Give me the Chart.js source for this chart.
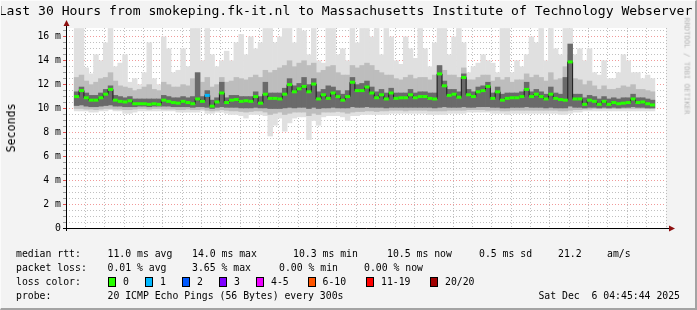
<!DOCTYPE html>
<html><head><meta charset="utf-8">
<script src="https://cdn.jsdelivr.net/npm/chart.js@4.4.0/dist/chart.umd.min.js"></script>
<style>
html,body{margin:0;padding:0;background:#f3f3f3;}
#wrap{position:relative;width:697px;height:310px;overflow:hidden;background:#f3f3f3;font-family:"DejaVu Sans Mono",monospace;color:#000;}
#frame{position:absolute;left:0;top:0;width:697px;height:310px;box-sizing:border-box;border-right:2px solid #a3a3a3;border-bottom:2px solid #a3a3a3;border-top:1px solid #fbfbfb;border-left:1px solid #fbfbfb;pointer-events:none;}
canvas{position:absolute;left:0;top:0;}
.t{position:absolute;white-space:pre;font-size:9.8px;line-height:12px;}
.box{position:absolute;width:8px;height:10px;box-sizing:border-box;border:1px solid #000;}
#title{position:absolute;left:-100px;width:891px;top:3px;text-align:center;font-size:13.1px;line-height:16px;white-space:pre;}
#ylab{position:absolute;left:11px;top:128px;transform:translate(-50%,-50%) rotate(-90deg);font-size:11.6px;white-space:pre;}
#rrd{position:absolute;left:687px;top:66px;transform:translate(-50%,-50%) rotate(90deg);font-size:7.3px;color:#b4b4b4;white-space:pre;}
</style></head>
<body><div id="wrap">
<canvas id="c" width="697" height="310"></canvas>
<div id="title">Last 30 Hours from smokeping.fk-it.nl to Massachusetts Institute of Technology Webserver</div>
<div id="ylab">Seconds</div>
<div id="rrd">RRDTOOL / TOBI OETIKER</div>
<div class="t" style="left:16px;top:248px">median rtt:</div>
<div class="t" style="left:107.5px;top:248px">11.0 ms avg</div>
<div class="t" style="left:192px;top:248px">14.0 ms max</div>
<div class="t" style="left:293px;top:248px">10.3 ms min</div>
<div class="t" style="left:387px;top:248px">10.5 ms now</div>
<div class="t" style="left:479px;top:248px">0.5 ms sd</div>
<div class="t" style="left:558px;top:248px">21.2</div>
<div class="t" style="left:607px;top:248px">am/s</div>
<div class="t" style="left:16px;top:262px">packet loss:</div>
<div class="t" style="left:107.5px;top:262px">0.01 % avg</div>
<div class="t" style="left:192px;top:262px">3.65 % max</div>
<div class="t" style="left:279px;top:262px">0.00 % min</div>
<div class="t" style="left:364px;top:262px">0.00 % now</div>
<div class="t" style="left:16px;top:276px">loss color:</div>
<div id="legend"></div>
<div class="t" style="left:16px;top:290px">probe:</div>
<div class="t" style="left:107.5px;top:290px">20 ICMP Echo Pings (56 Bytes) every 300s</div>
<div class="t" style="right:17px;top:290px">Sat Dec  6 04:45:44 2025</div>
<div id="frame"></div>
</div>
<script>
// ---- data (ms), one sample every 15 minutes, hours relative to Fri 00:00 ----
const startHour = -1.15;
const stepHours = 0.25;

const median = [
 11.0,11.5,10.9,10.7,10.7,10.9,11.2,11.6,10.7,10.6,
 10.55,10.65,10.4,10.4,10.4,10.35,10.4,10.35,10.7,10.6,
 10.5,10.45,10.6,10.5,10.4,10.8,10.6,11.1,10.2,10.55,
 11.3,10.5,10.7,10.75,10.6,10.65,10.6,11.0,10.45,11.2,
 10.85,10.85,10.8,11.2,12.0,11.4,11.65,11.85,11.4,12.05,
 10.8,11.15,10.85,11.3,11.0,10.7,11.0,12.2,11.5,11.5,
 11.8,11.3,10.9,11.15,10.8,11.3,10.85,10.9,10.9,11.15,
 10.9,11.0,11.0,10.85,10.8,12.9,11.9,11.1,11.2,10.95,
 12.6,11.15,11.0,11.4,11.5,11.85,10.85,11.4,10.7,10.85,
 10.9,10.9,11.0,11.6,11.0,11.2,11.0,10.8,11.2,10.85,
 10.75,10.7,13.9,10.8,10.8,10.35,10.7,10.6,10.35,10.6,
 10.35,10.5,10.4,10.45,10.5,10.8,10.5,10.55,10.4,10.3];

const lossCount = [
 0,0,0,0,0,0,0,0,0,0, 0,0,0,0,0,0,0,0,0,0,
 0,0,0,0,0,0,0,1,0,0, 0,0,0,0,0,0,0,0,0,0,
 0,0,0,0,0,0,0,0,0,0, 0,0,0,0,0,0,0,0,0,0,
 0,0,0,0,0,0,0,0,0,0, 0,0,0,0,0,0,0,0,0,0,
 0,0,0,0,0,0,0,0,0,0, 0,0,0,0,0,0,0,0,0,0,
 0,0,0,0,0,0,0,0,0,0, 0,0,0,0,0,0,0,0,0,0];

const darkLo = [
 10.25,10.3,10.2,10.15,10.15,10.2,10.25,10.3,10.2,10.2,
 10.15,10.15,10.15,10.2,10.2,10.15,10.2,10.2,10.2,10.2,
 10.15,10.15,10.15,10.15,10.1,10.15,10.15,10.1,10.0,10.1,
 10.15,10.1,10.1,10.1,10.05,10.05,10.05,10.1,10.05,10.05,
 10.0,10.0,10.0,10.05,10.1,10.05,10.1,10.1,10.0,10.1,
 10.0,10.05,10.05,10.1,10.05,10.05,10.05,10.15,10.1,10.1,
 10.15,10.1,10.1,10.1,10.05,10.1,10.1,10.1,10.1,10.1,
 10.1,10.1,10.1,10.1,10.05,10.1,10.15,10.1,10.1,10.1,
 10.15,10.1,10.1,10.15,10.15,10.15,10.1,10.1,10.05,10.05,
 10.1,10.1,10.1,10.15,10.1,10.1,10.1,10.05,10.1,10.05,
 10.05,10.05,10.2,10.1,10.1,10.05,10.1,10.1,10.05,10.1,
 10.05,10.1,10.05,10.1,10.1,10.15,10.1,10.1,10.05,10.05];

const darkHi = [
 11.4,11.8,11.3,11.1,11.1,11.3,11.6,11.9,11.1,11.0,
 10.9,11.0,10.8,10.8,10.8,10.8,10.8,10.8,11.1,11.0,
 10.9,10.9,11.0,10.9,11.0,13.0,11.0,11.5,10.7,10.9,
 12.2,10.9,11.1,11.1,11.0,11.0,11.0,11.4,11.0,12.2,
 11.3,11.3,11.3,11.7,12.5,11.9,12.1,12.6,12.0,12.5,
 11.4,11.6,11.9,11.8,11.5,11.2,11.5,12.6,12.0,12.1,
 12.3,11.8,11.4,11.6,11.3,11.7,11.3,11.3,11.3,11.6,
 11.3,11.4,11.4,11.3,11.3,13.6,12.3,11.6,11.6,11.4,
 12.9,11.6,11.4,11.8,11.9,12.2,11.3,11.8,11.2,11.3,
 11.3,11.3,11.4,12.2,11.4,11.6,11.4,11.2,11.8,11.3,
 11.2,12.6,15.4,11.2,11.2,10.9,11.1,11.0,10.8,11.0,
 10.8,10.9,10.8,10.9,10.9,11.2,10.9,10.9,10.8,10.7];

const midLo = [
 10.0,10.0,9.95,9.95,9.9,9.95,10.0,10.0,9.95,9.95,
 9.9,9.9,9.95,10.0,10.0,9.95,10.0,10.0,9.95,9.95,
 9.95,9.9,9.9,9.95,9.9,9.9,9.95,9.85,9.8,9.85,
 9.9,9.85,9.8,9.8,9.75,9.7,9.75,9.8,9.8,9.7,
 9.5,9.6,9.7,9.5,9.6,9.7,9.7,9.7,9.4,9.6,
 9.5,9.7,9.7,9.7,9.75,9.7,9.6,9.7,9.75,9.75,
 9.8,9.8,9.75,9.8,9.8,9.85,9.85,9.85,9.8,9.85,
 9.85,9.85,9.85,9.8,9.8,9.8,9.8,9.85,9.85,9.85,
 9.85,9.9,9.9,9.9,9.9,9.85,9.85,9.85,9.8,9.8,
 9.85,9.85,9.85,9.85,9.85,9.85,9.85,9.85,9.85,9.85,
 9.8,9.8,9.85,9.9,9.9,9.95,9.95,10.0,10.0,10.0,
 10.0,10.0,10.0,10.0,10.0,10.0,10.0,10.0,10.0,10.0];

const midHi = [
 12.6,12.8,12.3,12.0,12.2,12.5,12.6,13.0,12.3,11.9,
 11.8,11.7,11.5,11.6,11.8,12.0,11.6,11.5,12.2,12.0,
 11.8,11.8,12.0,11.9,12.5,13.0,12.2,12.6,11.8,12.0,
 12.6,12.2,12.3,12.6,12.5,12.4,12.6,12.8,12.6,13.2,
 13.0,13.2,13.4,13.6,14.0,13.5,13.8,14.0,13.6,13.8,
 13.0,13.2,13.5,13.6,13.0,12.8,12.8,13.6,13.4,13.6,
 13.8,13.6,13.2,13.0,12.8,12.8,12.5,12.4,12.6,12.8,
 12.5,12.6,12.6,12.4,12.8,13.5,13.2,12.8,12.8,12.6,
 13.4,12.4,12.4,12.6,12.8,12.8,12.3,12.6,12.4,12.6,
 12.2,12.4,12.4,12.9,12.6,12.8,12.6,12.3,13.0,12.4,
 12.5,13.5,14.5,12.5,12.4,12.0,12.3,11.9,11.6,11.9,
 11.6,11.6,11.7,11.9,11.8,12.0,11.6,11.6,11.5,11.4];

const pingMin = [
 9.8,9.8,9.8,9.7,9.7,9.8,9.8,9.9,9.8,9.8,
 9.6,9.6,9.7,9.8,9.8,9.8,9.8,9.8,9.8,9.8,
 9.8,9.7,9.7,9.7,9.7,9.7,9.8,9.6,9.6,9.7,
 9.7,9.6,9.5,9.5,9.4,9.2,9.5,9.5,9.5,9.4,
 7.7,8.6,9.2,8.1,8.8,9.2,9.3,9.3,7.4,9.0,
 8.6,9.3,9.4,9.4,9.4,9.3,9.0,9.4,9.4,9.5,
 9.5,9.5,9.5,9.5,9.5,9.6,9.6,9.6,9.6,9.6,
 9.6,9.6,9.6,9.5,9.5,9.5,9.5,9.6,9.6,9.6,
 9.6,9.7,9.7,9.7,9.7,9.7,9.6,9.6,9.6,9.5,
 9.6,9.6,9.6,9.6,9.6,9.6,9.6,9.6,9.6,9.6,
 9.5,9.5,9.6,9.7,9.7,9.8,9.8,9.8,9.8,9.8,
 9.8,9.8,9.8,9.8,9.8,9.8,9.8,9.8,9.8,9.8];

const pingMax = [
 16.7,16.7,13.4,12.9,14.5,14.0,15.5,16.7,13.5,13.8,
 14.5,12.2,12.5,12.0,13.0,15.5,12.5,12.0,16.0,15.0,
 13.0,13.2,15.0,13.5,16.7,16.7,14.0,16.7,14.5,13.5,
 14.0,14.8,14.0,15.5,16.2,14.5,16.0,15.0,15.5,16.7,
 16.7,15.5,16.0,16.7,16.7,15.5,16.7,16.5,14.5,16.7,
 14.0,13.8,16.7,16.7,14.5,15.0,14.0,16.7,15.5,16.7,
 16.7,16.0,16.7,14.5,16.7,16.0,14.0,13.7,16.0,15.0,
 14.2,16.7,15.0,13.5,15.5,16.7,16.7,14.5,16.0,16.7,
 15.5,13.0,13.5,13.8,14.5,14.0,13.8,13.0,16.7,16.7,
 13.0,14.0,13.5,14.5,16.0,15.5,16.7,14.0,16.7,15.0,
 14.5,16.7,16.7,14.5,15.0,14.0,15.0,13.0,12.8,14.0,
 12.5,12.5,13.0,14.5,14.0,13.0,13.0,12.5,12.8,12.5];

const xTickHours = [0, 6, 12, 18, 24];
const xTickLabels = ['Fri 00:00', 'Fri 06:00', 'Fri 12:00', 'Fri 18:00', 'Sat 00:00'];
const yTickValues = [0, 2, 4, 6, 8, 10, 12, 14, 16];
const yTickLabels = ['0', '2 m', '4 m', '6 m', '8 m', '10 m', '12 m', '14 m', '16 m'];

const lossLabels = ['0', '1', '2', '3', '4-5', '6-10', '11-19', '20/20'];
const lossColors = ['#26ff00', '#00b8ff', '#0059ff', '#7e00ff', '#ee00ff', '#ff5500', '#ff0000', '#a10000'];

// ---- legend row (loss colours) ----
const legendBoxX = [108, 145, 182, 219, 256, 307.5, 366, 430];
const legendEl = document.getElementById('legend');
lossLabels.forEach((lab, i) => {
  const b = document.createElement('div');
  b.className = 'box';
  b.style.left = legendBoxX[i] + 'px';
  b.style.top = '277px';
  b.style.background = lossColors[i];
  legendEl.appendChild(b);
  const t = document.createElement('div');
  t.className = 't';
  t.style.left = (legendBoxX[i] + 15) + 'px';
  t.style.top = '276px';
  t.textContent = lab;
  legendEl.appendChild(t);
});

// ---- chart ----
const xOf = i => startHour + i * stepHours;
const band = (lo, hi) => lo.map((v, i) => ({ x: xOf(i), y: [v, hi[i]] }));
const lossColorOf = n => n === 0 ? lossColors[0] : n === 1 ? lossColors[1] : n === 2 ? lossColors[2] :
  n === 3 ? lossColors[3] : n <= 5 ? lossColors[4] : n <= 10 ? lossColors[5] : n <= 19 ? lossColors[6] : lossColors[7];

const MAJOR = 'rgba(235,110,110,0.7)';
const MINOR = 'rgba(150,150,150,0.6)';
const DASH = [1, 2];
const FONT = { family: 'DejaVu Sans Mono', size: 9.8 };
const isMajorX = c => !!c.tick && Math.abs(c.tick.value % 3) < 1e-6;
const isMajorY = c => !!c.tick && Math.abs(c.tick.value % 2) < 1e-6;

const bgPlugin = {
  id: 'bg',
  beforeDraw(chart) {
    const { ctx, chartArea: a } = chart;
    ctx.save();
    ctx.fillStyle = '#ffffff';
    ctx.fillRect(a.left, a.top, a.right - a.left, a.bottom - a.top);
    ctx.restore();
  },
  afterDraw(chart) {
    const { ctx, chartArea: a } = chart;
    ctx.save();
    ctx.setLineDash([]);
    ctx.strokeStyle = '#000';
    ctx.lineWidth = 1;
    ctx.beginPath();
    ctx.moveTo(a.left - 3, a.bottom + 0.5);
    ctx.lineTo(a.right + 4, a.bottom + 0.5);
    ctx.moveTo(a.left + 0.5, a.bottom + 3);
    ctx.lineTo(a.left + 0.5, a.top - 2);
    ctx.stroke();
    ctx.fillStyle = '#8e1010';
    ctx.beginPath();
    ctx.moveTo(a.right + 3, a.bottom - 2.5);
    ctx.lineTo(a.right + 9, a.bottom + 0.5);
    ctx.lineTo(a.right + 3, a.bottom + 3.5);
    ctx.closePath();
    ctx.fill();
    ctx.beginPath();
    ctx.moveTo(a.left - 2.5, a.top - 2);
    ctx.lineTo(a.left + 0.5, a.top - 8);
    ctx.lineTo(a.left + 3.5, a.top - 2);
    ctx.closePath();
    ctx.fill();
    ctx.restore();
  }
};

const barCommon = { type: 'bar', grouped: false, barPercentage: 1, categoryPercentage: 1, borderWidth: 0, borderSkipped: false };

new Chart(document.getElementById('c'), {
  data: {
    datasets: [
      {
        type: 'line', order: 0,
        data: median.map((v, i) => ({ x: xOf(i), y: v })),
        borderColor: '#1c1c1c', borderWidth: 1, stepped: 'middle',
        pointStyle: 'line', pointRadius: 2.5, pointHoverRadius: 2.5, pointBorderWidth: 3,
        pointBorderColor: lossCount.map(lossColorOf), pointBackgroundColor: lossCount.map(lossColorOf)
      },
      Object.assign({}, barCommon, { order: 1, data: band(darkLo, darkHi), backgroundColor: '#6a6a6a' }),
      Object.assign({}, barCommon, { order: 2, data: band(midLo, midHi), backgroundColor: '#bdbdbd' }),
      Object.assign({}, barCommon, { order: 3, data: band(pingMin, pingMax), backgroundColor: '#e0e0e0' })
    ]
  },
  options: {
    responsive: false, animation: false, devicePixelRatio: 1,
    layout: { padding: { top: 28, right: 31, left: 0, bottom: 0 } },
    plugins: { legend: { display: false }, tooltip: { enabled: false }, title: { display: false } },
    scales: {
      x: {
        type: 'linear', min: -1.2, max: 28.8, z: 1,
        afterFit(s) { s.height = 82; },
        ticks: {
          stepSize: 1, includeBounds: false, autoSkip: false, maxRotation: 0, minRotation: 0,
          padding: 1, color: '#000', font: FONT,
          callback(v) { const k = xTickHours.indexOf(v); return k >= 0 ? xTickLabels[k] : ''; }
        },
        grid: {
          color: c => (isMajorX(c) ? MAJOR : MINOR),
          tickColor: c => (isMajorX(c) ? 'rgba(220,60,60,0.9)' : 'rgba(0,0,0,0)'),
          tickLength: 3, lineWidth: 1, borderDash: DASH, tickBorderDash: []
        },
        border: { display: false, dash: DASH }
      },
      y: {
        type: 'linear', min: 0, max: 16.74, z: 1,
        afterFit(s) { s.width = 66; },
        ticks: {
          stepSize: 0.5, includeBounds: false, autoSkip: false, padding: 2, color: '#000', font: FONT,
          callback(v) { const k = yTickValues.indexOf(v); return k >= 0 ? yTickLabels[k] : ''; }
        },
        grid: {
          color: c => (isMajorY(c) ? MAJOR : MINOR),
          tickColor: c => (isMajorY(c) ? 'rgba(220,60,60,0.9)' : 'rgba(120,120,120,0.7)'),
          tickLength: 3, lineWidth: 1, borderDash: DASH, tickBorderDash: []
        },
        border: { display: false, dash: DASH }
      }
    }
  },
  plugins: [bgPlugin]
});
</script>
</body></html>
